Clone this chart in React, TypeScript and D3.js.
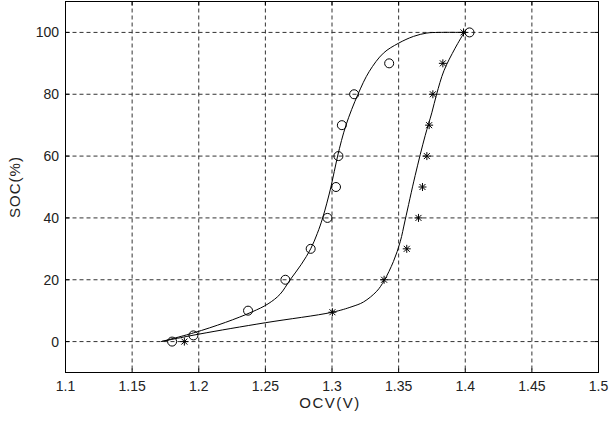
import React from "react";
import * as d3 from "d3";

const xTicks = [1.1, 1.15, 1.2, 1.25, 1.3, 1.35, 1.4, 1.45, 1.5];
const xTickLabels = ["1.1", "1.15", "1.2", "1.25", "1.3", "1.35", "1.4", "1.45", "1.5"];
const yTicks = [0, 20, 40, 60, 80, 100];

// circle markers (OCV, SOC)
const circleOCV = [1.18, 1.196, 1.237, 1.265, 1.284, 1.2966, 1.303, 1.3048, 1.3074, 1.3166, 1.3429, 1.4032];
const circleSOC = [0, 2, 10, 20, 30, 40, 50, 60, 70, 80, 90, 100];

// star markers
const starOCV = [1.1892, 1.3003, 1.3391, 1.3561, 1.3649, 1.3679, 1.3712, 1.3729, 1.3757, 1.3832, 1.3987];
const starSOC = [0, 9.5, 20, 30, 40, 50, 60, 70, 80, 90, 100];

// fitted curve 1 (through circles)
const curve1OCV = [1.1718, 1.196, 1.22, 1.24, 1.252, 1.261, 1.2686, 1.277, 1.284, 1.289, 1.293, 1.2992, 1.3042, 1.3105, 1.3195, 1.328, 1.3386, 1.3499, 1.3611, 1.3712, 1.38, 1.3987];
const curve1SOC = [0, 2.8, 6.2, 9.6, 12.2, 15.3, 20, 25, 30, 35, 40, 50, 60, 70, 80, 87.4, 93.3, 96.5, 98.7, 99.8, 100, 100];

// fitted curve 2 (through stars)
const curve2OCV = [1.1718, 1.2, 1.25, 1.3003, 1.315, 1.3236, 1.3336, 1.3391, 1.3461, 1.3512, 1.3549, 1.3624, 1.3699, 1.3749, 1.3785, 1.384, 1.3924, 1.3987];
const curve2SOC = [0, 2.4, 6.1, 9.5, 11.3, 12.8, 16.3, 19.7, 25.9, 32.3, 39.3, 53.7, 66.6, 74, 80, 87.6, 94.9, 99.6];

const W = 610;
const H = 421;
const L = 65.5;
const R = 598.5;
const T = 1.5;
const B = 372.5;

export default function App() {
  const x = d3.scaleLinear().domain([1.1, 1.5]).range([L, R]);
  const y = d3.scaleLinear().domain([-10, 110]).range([B, T]);
  const line = d3
    .line<[number, number]>()
    .x((d) => x(d[0]))
    .y((d) => y(d[1]))
    .curve(d3.curveCatmullRom.alpha(0.5));
  const c1 = curve1OCV.map((v, i) => [v, curve1SOC[i]] as [number, number]);
  const c2 = curve2OCV.map((v, i) => [v, curve2SOC[i]] as [number, number]);
  const font = "'Liberation Sans', Arial, sans-serif";
  const textColor = "#222";
  const s = 4;
  const sd = 3;
  return (
    <svg
      width={W}
      height={H}
      style={{ position: "absolute", left: 0, top: 0, background: "#fff" }}
      fontFamily={font}
    >
      <rect x={0} y={0} width={W} height={H} fill="#fff" />
      {/* grid */}
      {xTicks.slice(1, -1).map((t) => (
        <line key={"gx" + t} x1={x(t)} x2={x(t)} y1={T} y2={B} stroke="#333" strokeDasharray="4,3" strokeWidth={1} />
      ))}
      {yTicks.map((t) => (
        <line key={"gy" + t} x1={L} x2={R} y1={y(t)} y2={y(t)} stroke="#333" strokeDasharray="4,3" strokeWidth={1} />
      ))}
      {/* curves */}
      <path d={line(c1) || ""} fill="none" stroke="#000" strokeWidth={1} />
      <path d={line(c2) || ""} fill="none" stroke="#000" strokeWidth={1} />
      {/* circles */}
      {circleOCV.map((v, i) => (
        <circle key={"c" + i} cx={x(v)} cy={y(circleSOC[i])} r={4.5} fill="none" stroke="#000" strokeWidth={1} />
      ))}
      {/* stars */}
      {starOCV.map((v, i) => {
        const cx = x(v);
        const cy = y(starSOC[i]);
        return (
          <g key={"s" + i} stroke="#000" strokeWidth={1}>
            <line x1={cx - s} x2={cx + s} y1={cy} y2={cy} />
            <line x1={cx} x2={cx} y1={cy - s} y2={cy + s} />
            <line x1={cx - sd} x2={cx + sd} y1={cy - sd} y2={cy + sd} />
            <line x1={cx - sd} x2={cx + sd} y1={cy + sd} y2={cy - sd} />
          </g>
        );
      })}
      {/* frame */}
      <rect x={L} y={T} width={R - L} height={B - T} fill="none" stroke="#000" strokeWidth={1} />
      {/* ticks */}
      {xTicks.map((t) => (
        <g key={"tx" + t} stroke="#000">
          <line x1={x(t)} x2={x(t)} y1={B} y2={B - 4} />
          <line x1={x(t)} x2={x(t)} y1={T} y2={T + 4} />
        </g>
      ))}
      {yTicks.map((t) => (
        <g key={"ty" + t} stroke="#000">
          <line x1={L} x2={L + 4} y1={y(t)} y2={y(t)} />
          <line x1={R} x2={R - 4} y1={y(t)} y2={y(t)} />
        </g>
      ))}
      {/* tick labels */}
      {xTicks.map((t, i) => (
        <text key={"lx" + t} x={x(t)} y={391} textAnchor="middle" fontSize={14} fill={textColor}>
          {xTickLabels[i]}
        </text>
      ))}
      {yTicks.map((t) => (
        <text key={"ly" + t} x={59} y={y(t) + 5} textAnchor="end" fontSize={14} fill={textColor}>
          {t}
        </text>
      ))}
      <text x={330} y={408} textAnchor="middle" fontSize={15} letterSpacing={1.5} fill={textColor}>
        OCV(V)
      </text>
      <text
        transform={`translate(20,${(T + B) / 2}) rotate(-90)`}
        textAnchor="middle"
        fontSize={15}
        letterSpacing={1}
        fill={textColor}
      >
        SOC(%)
      </text>
    </svg>
  );
}
